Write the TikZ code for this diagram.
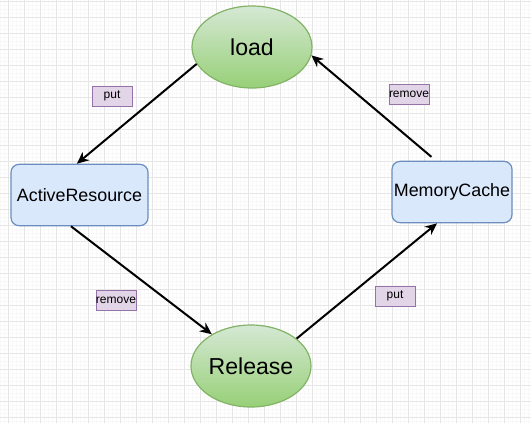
\documentclass[tikz,border=0pt]{standalone}
\usepackage{fontspec}
\setmainfont{Liberation Sans}
\usetikzlibrary{arrows.meta,shapes.geometric,positioning}

\definecolor{GreenTop}{HTML}{D5E8D4}
\definecolor{GreenBottom}{HTML}{97D077}
\definecolor{GreenLine}{HTML}{82B366}
\definecolor{BlueFill}{HTML}{DAE8FC}
\definecolor{BlueLine}{HTML}{6C8EBF}
\definecolor{PurpleFill}{HTML}{E1D5E7}
\definecolor{PurpleLine}{HTML}{9673A6}
\definecolor{MajorGrid}{HTML}{E6E6E6}
\definecolor{MinorGrid}{HTML}{F8F8F8}

\begin{document}
\begin{tikzpicture}[x = 0.75pt, y = -0.75pt]
  \tikzset{state/.style = {ellipse, minimum width = 90pt, minimum height = 61.5pt, inner sep = 0pt, draw = GreenLine, line width = 0.9pt, top color = GreenTop, bottom color = GreenBottom, font = \fontsize{17.3pt}{20pt}\selectfont}}
  \tikzset{store/.style = {rectangle, rounded corners = 6pt, inner sep = 0pt, draw = BlueLine, line width = 0.9pt, fill = BlueFill, minimum height = 46pt, font = \fontsize{13.4pt}{16pt}\selectfont}}
  \tikzset{tag/.style = {rectangle, minimum width = 30pt, minimum height = 15pt, inner sep = 0pt, draw = PurpleLine, fill = PurpleFill, font = \fontsize{9pt}{10pt}\selectfont}}
  \tikzset{flow/.style = {-{Stealth[length = 9pt, width = 8pt, inset = 3pt]}, line width = 1.5pt}}

  % background grid
  \useasboundingbox (0,0) rectangle (531,422);
  \begin{scope}
    \clip (0,0) rectangle (531,422);
    \fill[white] (0,0) rectangle (531,422);
    \draw[MinorGrid, step = 3pt, shift = {(0,1.3)}] (-16,-16) grid (540,430);
    \draw[MajorGrid, step = 12pt, shift = {(8,1.3)}] (-16,-16) grid (540,430);
  \end{scope}

  \node[state] (load) at (252,47) {load};
  \node[state] (release) at (251,366) {Release};
  \node[store, minimum width = 102.75pt] (active) at (79.5,195) {ActiveResource};
  \node[store, minimum width = 90pt] (memory) at (452,192) {MemoryCache};

  \node[tag] (putA) at (112,96) {put};
  \node[tag] (removeA) at (116,300) {remove};
  \node[tag] (removeB) at (409,94) {remove};
  \node[tag] (putB) at (395,296) {put};

  \draw[flow] (load.197) -- ([xshift = -2pt]active.north);
  \draw[flow] ([xshift = -6.4pt]active.south) -- (release.141);
  \draw[flow] (release.31) -- ([xshift = -11.2pt]memory.south);
  \draw[flow, shorten <= 4.5pt] ([xshift = -12pt]memory.north) -- (load.-8);

\end{tikzpicture}
\end{document}
